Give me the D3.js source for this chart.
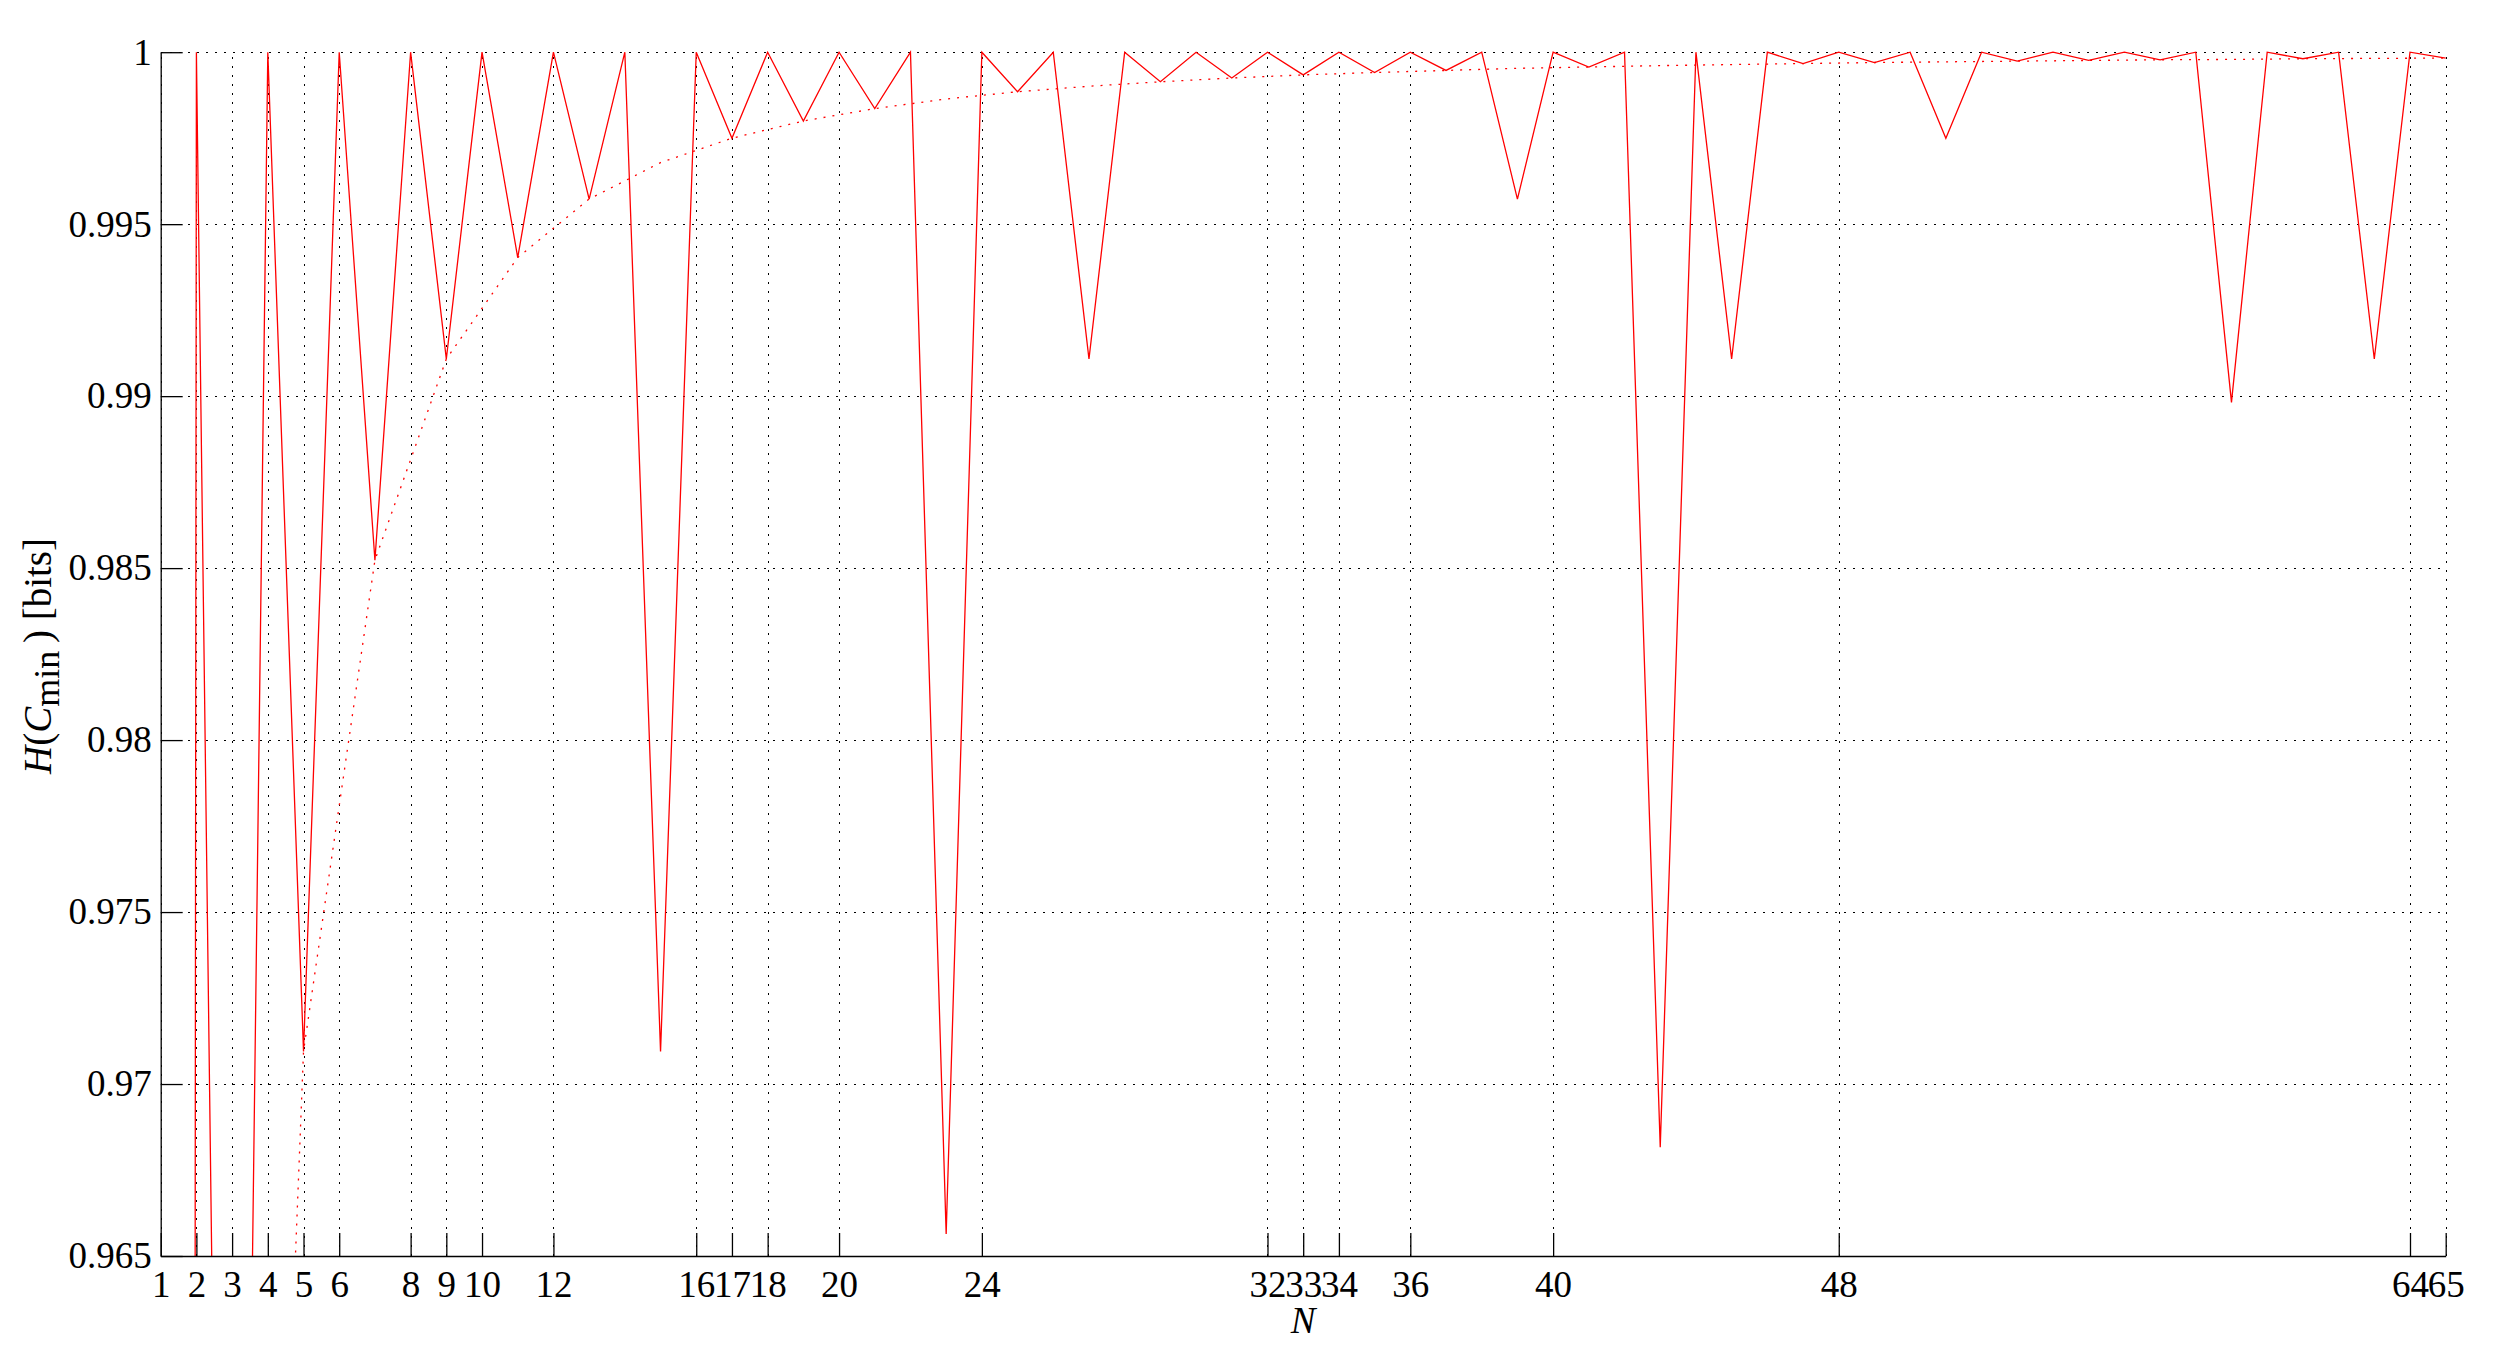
<!DOCTYPE html>
<html>
<head>
<meta charset="utf-8">
<script src="https://cdn.jsdelivr.net/npm/d3@7"></script>
<style>
  html, body { margin: 0; padding: 0; background: #fff; }
  svg { display: block; }
  text { font-family: "Liberation Serif", "Times New Roman", serif; }
</style>
</head>
<body>
<svg id="chart"></svg>
<script>
const width = 2493, height = 1351;
const margin = {top: 52.2, right: 47.3, bottom: 95, left: 160.7};

// N = 1..65
const nValues = [1, 2, 3, 4, 5, 6, 7, 8, 9, 10, 11, 12, 13, 14, 15, 16, 17, 18, 19, 20,
  21, 22, 23, 24, 25, 26, 27, 28, 29, 30, 31, 32, 33, 34, 35, 36, 37, 38, 39, 40,
  41, 42, 43, 44, 45, 46, 47, 48, 49, 50, 51, 52, 53, 54, 55, 56, 57, 58, 59, 60,
  61, 62, 63, 64, 65];

// H(C_min) for each N (solid line)
const hMin = [0, 1, 0.9183, 1, 0.97095, 1, 0.98523, 1, 0.99108, 1,
  0.99403, 1, 0.99573, 1, 0.97095, 1, 0.9975, 1, 0.998, 1,
  0.99836, 1, 0.96564, 1, 0.99885, 1, 0.99108, 1, 0.99914, 1,
  0.99925, 1, 0.99934, 1, 0.99941, 1, 0.99947, 1, 0.99573, 1,
  0.99957, 1, 0.96816, 1, 0.99108, 1, 0.99967, 1, 0.9997, 1,
  0.9975, 1, 0.99974, 1, 0.99976, 1, 0.99978, 1, 0.98982, 1,
  0.99981, 1, 0.99108, 1, 0.99983];

// dotted reference curve at odd N
const boundN = [3, 5, 7, 9, 11, 13, 15, 17, 19, 21, 23, 25, 27, 29, 31, 33,
  35, 37, 39, 41, 43, 45, 47, 49, 51, 53, 55, 57, 59, 61, 63, 65];
const boundH = [0.9183, 0.97095, 0.98523, 0.99108, 0.99403, 0.99573, 0.99679, 0.9975,
  0.998, 0.99836, 0.99864, 0.99885, 0.99901, 0.99914, 0.99925, 0.99934,
  0.99941, 0.99947, 0.99953, 0.99957, 0.99961, 0.99964, 0.99967, 0.9997,
  0.99972, 0.99974, 0.99976, 0.99978, 0.99979, 0.99981, 0.99982, 0.99983];

const xTicks = [1, 2, 3, 4, 5, 6, 8, 9, 10, 12, 16, 17, 18, 20, 24, 32, 33, 34, 36, 40, 48, 64, 65];
const yTicks = [0.965, 0.97, 0.975, 0.98, 0.985, 0.99, 0.995, 1];
const yTickLabels = ["0.965", "0.97", "0.975", "0.98", "0.985", "0.99", "0.995", "1"];

const svg = d3.select("#chart").attr("width", width).attr("height", height);

const x = d3.scaleLinear([1, 65], [margin.left, width - margin.right]);
const y = d3.scaleLinear([0.965, 1], [height - margin.bottom, margin.top]);

// grid
const grid = svg.append("g")
    .attr("stroke", "#000")
    .attr("stroke-width", 1)
    .attr("stroke-dasharray", "2,7")
    .attr("shape-rendering", "crispEdges");
grid.selectAll(".gx").data(xTicks).join("line")
    .attr("x1", d => Math.round(x(d)) + 0.5).attr("x2", d => Math.round(x(d)) + 0.5)
    .attr("y1", y(0.965)).attr("y2", y(1));
grid.selectAll(".gy").data(yTicks).join("line")
    .attr("y1", d => Math.round(y(d)) + 0.5).attr("y2", d => Math.round(y(d)) + 0.5)
    .attr("x1", x(1)).attr("x2", x(65));

svg.append("clipPath").attr("id", "clip")
  .append("rect")
    .attr("x", x(1)).attr("y", y(1) - 3)
    .attr("width", x(65) - x(1) + 2).attr("height", y(0.965) - y(1) + 3);

const line = d3.line().x(d => x(d[0])).y(d => y(d[1]));

svg.append("path")
    .attr("clip-path", "url(#clip)")
    .attr("fill", "none")
    .attr("stroke", "#ff0000")
    .attr("stroke-width", 1.3)
    .attr("stroke-dasharray", "2,7")
    .attr("d", line(boundN.map((n, i) => [n, boundH[i]])));

svg.append("path")
    .attr("clip-path", "url(#clip)")
    .attr("fill", "none")
    .attr("stroke", "#ff0000")
    .attr("stroke-width", 1.3)
    .attr("d", line(nValues.map((n, i) => [n, hMin[i]])));

// axes
const xAxis = svg.append("g")
    .attr("transform", `translate(0,${y(0.965)})`)
    .call(d3.axisBottom(x).tickValues(xTicks).tickFormat(d3.format("d"))
      .tickSizeInner(-23).tickSizeOuter(0).tickPadding(14.5));
const yAxis = svg.append("g")
    .attr("transform", `translate(${x(1)},0)`)
    .call(d3.axisLeft(y).tickValues(yTicks).tickFormat((d, i) => yTickLabels[i])
      .tickSizeInner(-22).tickSizeOuter(0).tickPadding(9));

[xAxis, yAxis].forEach(g => {
  g.attr("font-family", null);
  g.selectAll("path, line").attr("stroke", "#000").attr("stroke-width", 1.3);
  g.selectAll("text")
    .attr("fill", "#000")
    .style("font-family", '"Liberation Serif", "Times New Roman", serif')
    .style("font-size", "37px");
});

// axis labels
svg.append("text")
    .attr("x", x(33))
    .attr("y", 1333)
    .attr("text-anchor", "middle")
    .style("font-size", "37px")
    .style("font-style", "italic")
    .text("N");

const yl = svg.append("text")
    .attr("transform", `translate(51,656) rotate(-90)`)
    .attr("text-anchor", "middle")
    .style("font-size", "39px");
yl.append("tspan").style("font-style", "italic").text("H");
yl.append("tspan").text("(");
yl.append("tspan").style("font-style", "italic").text("C");
yl.append("tspan").attr("dy", 8).style("font-size", "36px").text("min");
yl.append("tspan").attr("dy", -8).text("\u2009)");
yl.append("tspan").text("\u00a0[bits]");
</script>
</body>
</html>
